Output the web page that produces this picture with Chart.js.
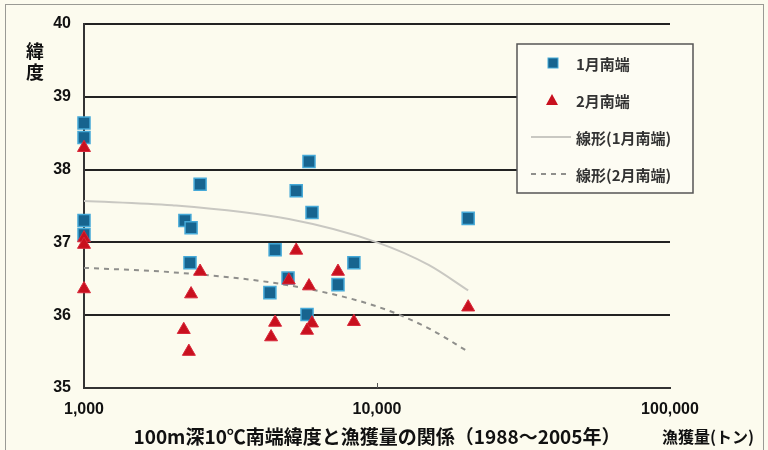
<html>
<head>
<meta charset="utf-8">
<title>100m深10℃南端緯度と漁獲量</title>
<script src="https://cdn.jsdelivr.net/npm/chart.js@4/dist/chart.umd.min.js"></script>
<style>
  body { margin: 0; background: #fcfbee; }
  #wrap { position: relative; width: 768px; height: 450px; }
  #frame { position: absolute; left: 5px; top: 4px; width: 757px; height: 460px;
           border: 1px solid #9a9a94; border-bottom: none; pointer-events: none; }
</style>
</head>
<body>
<div id="wrap">
  <canvas id="chart" width="768" height="450"></canvas>
  <div id="frame"></div>
</div>
<script>
// 漁獲量(トン) と 100m深10℃南端緯度
const catchJan = [1000, 1000, 1000, 1000, 2210, 2320, 2490, 2300, 4490, 4310, 4970, 5300, 5860, 6000, 5770, 7360, 8340, 20470];
const latJan   = [38.64, 38.44, 37.30, 37.11, 37.30, 37.20, 37.80, 36.72, 36.90, 36.31, 36.51, 37.71, 38.11, 37.41, 36.01, 36.42, 36.72, 37.33];
const catchFeb = [1000, 1000, 1000, 1000, 2190, 2280, 2320, 2490, 4350, 4490, 5000, 5300, 5860, 6000, 5770, 7360, 8340, 20470];
const latFeb   = [38.30, 37.06, 36.97, 36.36, 35.80, 35.50, 36.29, 36.60, 35.70, 35.90, 36.48, 36.89, 36.40, 35.89, 35.79, 36.60, 35.91, 36.11];

// trend lines
const trendX   = [1000, 2000, 5000, 10000, 15000, 20470];
const trendJan = [37.57, 37.51, 37.32, 37.00, 36.69, 36.34];
const trendFeb = [36.65, 36.59, 36.41, 36.12, 35.82, 35.50];

const xTicks = [1000, 10000, 100000];
const seriesNames = ['1月南端', '2月南端', '線形(1月南端)', '線形(2月南端)'];

const pts = (xs, ys) => xs.map((x, i) => ({x: x, y: ys[i]}));

const cjk = '"Noto Sans CJK JP", "Noto Sans", sans-serif';
const narrow = '"Liberation Sans Narrow", "Liberation Sans", Arial, sans-serif';

// legend box + titles drawn on the canvas
const extras = {
  id: 'extras',
  afterDraw(chart) {
    const ctx = chart.ctx;
    const ds = chart.data.datasets;
    ctx.save();
    // y title, stacked
    ctx.fillStyle = '#111';
    ctx.font = 'bold 18px ' + cjk;
    ctx.textAlign = 'center';
    ctx.textBaseline = 'middle';
    ctx.fillText('緯', 35, 51);
    ctx.fillText('度', 35, 72);
    // bottom title
    ctx.font = 'bold 19px ' + cjk;
    ctx.fillText('100m深10℃南端緯度と漁獲量の関係（1988～2005年）', 377, 437);
    ctx.textAlign = 'left';
    ctx.font = 'bold 16px ' + cjk;
    ctx.fillText('漁獲量(トン)', 662, 437);

    // small tick at 10,000 on the x axis
    const xs = chart.scales.x;
    const bottom = chart.chartArea.bottom;
    ctx.strokeStyle = '#555';
    ctx.lineWidth = 1;
    ctx.beginPath();
    ctx.moveTo(Math.round(xs.getPixelForValue(xTicks[1])) + 0.5, bottom - 5);
    ctx.lineTo(Math.round(xs.getPixelForValue(xTicks[1])) + 0.5, bottom);
    ctx.stroke();

    // legend
    ctx.fillStyle = '#fdfcf3';
    ctx.fillRect(517, 44, 176, 149);
    ctx.strokeStyle = '#555';
    ctx.lineWidth = 1.5;
    ctx.strokeRect(517, 44, 176, 149);
    const rows = [63, 100, 137, 174];
    ctx.font = 'bold 15px ' + cjk;
    ctx.textBaseline = 'middle';
    rows.forEach((y, i) => {
      const d = ds[i];
      if (i === 0) {
        ctx.fillStyle = d.backgroundColor;
        ctx.strokeStyle = d.borderColor;
        ctx.lineWidth = 1;
        ctx.fillRect(548, y - 5, 10, 10);
        ctx.strokeRect(548, y - 5, 10, 10);
      } else if (i === 1) {
        ctx.fillStyle = d.backgroundColor;
        ctx.beginPath();
        ctx.moveTo(552, y - 6);
        ctx.lineTo(558, y + 5);
        ctx.lineTo(546, y + 5);
        ctx.closePath();
        ctx.fill();
      } else {
        ctx.strokeStyle = d.borderColor;
        ctx.lineWidth = 2;
        ctx.setLineDash(d.borderDash || []);
        ctx.beginPath();
        ctx.moveTo(531, y);
        ctx.lineTo(571, y);
        ctx.stroke();
        ctx.setLineDash([]);
      }
      ctx.fillStyle = '#333';
      ctx.fillText(seriesNames[i], 576, y + 1);
    });
    ctx.restore();
  }
};

new Chart(document.getElementById('chart'), {
  type: 'scatter',
  data: {
    datasets: [
      {
        label: seriesNames[0],
        data: pts(catchJan, latJan),
        pointStyle: 'rect',
        pointRadius: 8.5,
        backgroundColor: '#17648f',
        borderColor: '#45a9d8',
        borderWidth: 1.5,
        clip: false,
        order: 2
      },
      {
        label: seriesNames[1],
        data: pts(catchFeb, latFeb),
        pointStyle: 'triangle',
        pointRadius: 7.5,
        backgroundColor: '#c8101e',
        borderColor: '#d8283a',
        borderWidth: 1,
        clip: false,
        order: 1
      },
      {
        type: 'line',
        label: seriesNames[2],
        data: pts(trendX, trendJan),
        borderColor: '#c9c8c2',
        borderWidth: 2,
        pointRadius: 0,
        cubicInterpolationMode: 'monotone',
        order: 3
      },
      {
        type: 'line',
        label: seriesNames[3],
        data: pts(trendX, trendFeb),
        borderColor: '#8f8f8c',
        borderWidth: 2,
        borderDash: [5, 5],
        pointRadius: 0,
        cubicInterpolationMode: 'monotone',
        order: 3
      }
    ]
  },
  options: {
    responsive: false,
    animation: false,
    layout: { padding: { left: 0, top: 24, right: 98, bottom: 0 } },
    plugins: {
      legend: { display: false },
      tooltip: { enabled: false }
    },
    scales: {
      x: {
        type: 'logarithmic',
        min: 1000,
        max: 100000,
        afterBuildTicks: s => { s.ticks = xTicks.map(v => ({value: v})); },
        afterFit: s => { s.height = 62; },
        grid: { display: false, drawTicks: false },
        border: { color: '#333', width: 2 },
        ticks: {
          maxRotation: 0,
          padding: 12,
          color: '#111',
          font: { family: narrow, size: 16, weight: 'bold' },
          callback: v => Number(v).toLocaleString('en-US')
        }
      },
      y: {
        min: 35,
        max: 40,
        afterFit: s => { s.width = 84; },
        grid: { color: '#222', lineWidth: 2, drawTicks: false },
        border: { color: '#333', width: 2 },
        ticks: {
          stepSize: 1,
          padding: 13,
          color: '#111',
          font: { family: narrow, size: 16, weight: 'bold' }
        }
      }
    }
  },
  plugins: [extras]
});
</script>
</body>
</html>
